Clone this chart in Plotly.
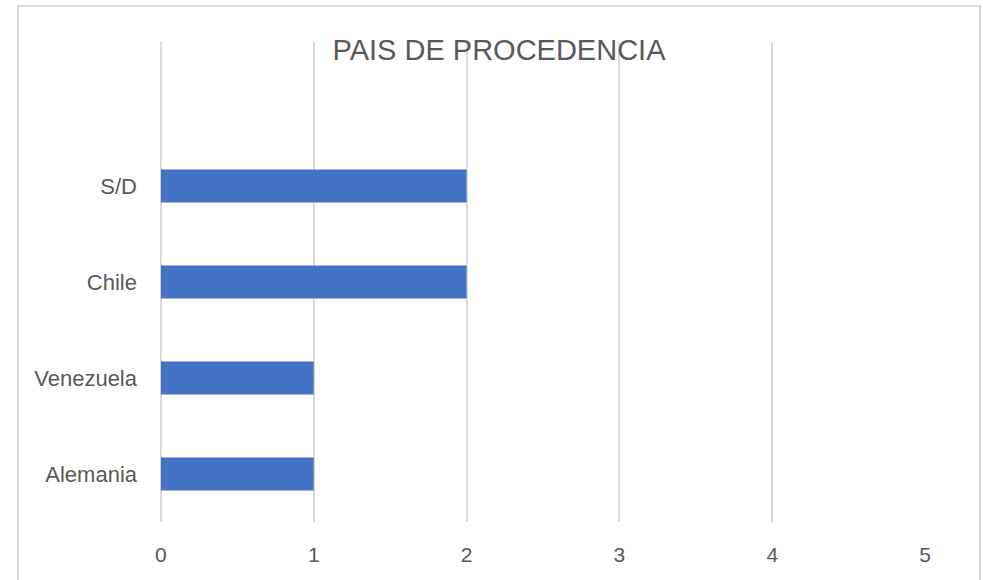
import plotly.graph_objects as go

categories = ["Alemania", "Venezuela", "Chile", "S/D"]
values = [1, 1, 2, 2]
x_ticks = [0, 1, 2, 3, 4, 5]
title_text = "PAIS DE PROCEDENCIA"

W, H = 983, 580
L, R, T, B = 160, 57, 42, 58
pw, ph = W - L - R, H - T - B

def px_x(p):
    return (p - L) / pw

def px_y(p):
    return (H - B - p) / ph

fig = go.Figure()
fig.add_trace(go.Bar(
    x=values, y=categories, orientation="h",
    marker=dict(color="#4472c4", line=dict(width=0)),
    width=0.344,
))

fig.update_layout(
    width=W, height=H,
    margin=dict(l=L, r=R, t=T, b=B),
    paper_bgcolor="white", plot_bgcolor="white",
    showlegend=False,
    font=dict(family="Liberation Sans, Arial, sans-serif", color="#595959"),
    title=dict(
        text=title_text, x=499 / W, xref="container", xanchor="center",
        y=1 - 50 / H, yref="container", yanchor="middle",
        font=dict(size=29, color="#595959", family="Liberation Sans, Arial, sans-serif"),
    ),
    xaxis=dict(
        range=[-0.006, 5.006], tickvals=x_ticks, ticktext=[str(v) for v in x_ticks],
        showgrid=True, gridcolor="#d9d9d9", gridwidth=2,
        zeroline=True, zerolinecolor="#d9d9d9", zerolinewidth=2,
        showline=False, ticks="",
        tickfont=dict(size=21, color="#595959"),
        ticklabelstandoff=18,
    ),
    yaxis=dict(
        type="category", categoryorder="array", categoryarray=categories,
        range=[-0.5, 4.5],
        showgrid=False, zeroline=False, showline=False, ticks="",
        tickfont=dict(size=22, color="#595959"),
        ticklabelstandoff=22,
    ),
    shapes=[dict(
        type="rect", xref="paper", yref="paper",
        x0=px_x(18), x1=px_x(980), y0=px_y(600), y1=px_y(6),
        line=dict(color="#d9d9d9", width=2), fillcolor="rgba(0,0,0,0)",
        layer="below",
    )],
)

fig.write_html(
    "out.html",
    config={"displayModeBar": False},
    post_script="document.body.style.margin='0';document.body.style.overflow='hidden';",
)
